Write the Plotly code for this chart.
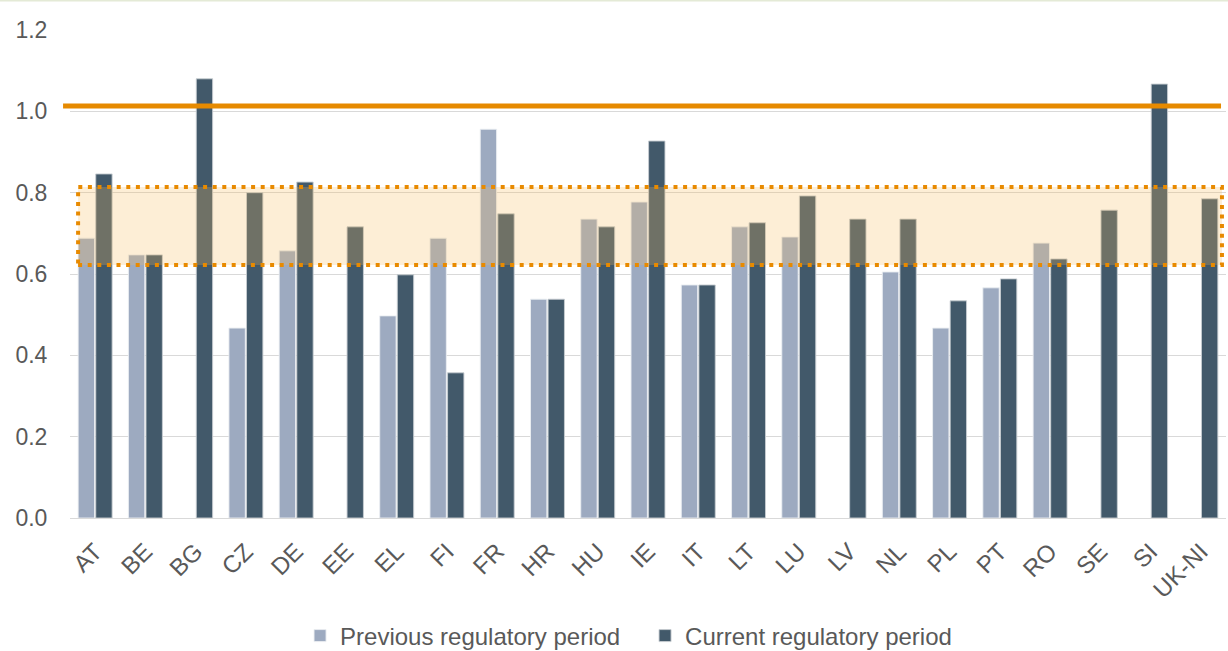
import plotly.graph_objects as go

countries = ["AT", "BE", "BG", "CZ", "DE", "EE", "EL", "FI", "FR", "HR", "HU", "IE",
             "IT", "LT", "LU", "LV", "NL", "PL", "PT", "RO", "SE", "SI", "UK-NI"]
previous = [0.688, 0.647, None, 0.467, 0.657, None, 0.497, 0.688, 0.956, 0.538, 0.735, 0.777,
            0.573, 0.716, 0.691, None, 0.605, 0.467, 0.566, 0.676, None, None, None]
current = [0.846, 0.647, 1.080, 0.800, 0.826, 0.716, 0.598, 0.357, 0.748, 0.538, 0.716, 0.927,
           0.573, 0.726, 0.792, 0.735, 0.735, 0.534, 0.588, 0.637, 0.757, 1.067, 0.785]
threshold = 1.013
band_low, band_high = 0.622, 0.814
yticks = [0.0, 0.2, 0.4, 0.6, 0.8, 1.0, 1.2]

FONT = "Liberation Sans, Arial, sans-serif"
GREY = "#595959"

fig = go.Figure()
fig.add_trace(go.Bar(x=countries, y=previous, name="Previous regulatory period",
                     marker=dict(color="#9DAAC0", line=dict(color="rgba(235,238,242,0.9)", width=1))))
fig.add_trace(go.Bar(x=countries, y=current, name="Current regulatory period",
                     marker=dict(color="#42596A", line=dict(color="rgba(200,205,210,0.9)", width=1))))

# band of reference range
fig.add_shape(type="rect", xref="paper", yref="y", x0=0.007, x1=0.9965,
              y0=band_low, y1=band_high, layer="above",
              fillcolor="rgba(247,187,91,0.25)",
              line=dict(color="#E88A00", width=4, dash="4px,5.6px"))
# threshold line
fig.add_shape(type="line", xref="paper", yref="y", x0=-0.006, x1=0.9957,
              y0=threshold, y1=threshold, layer="above",
              line=dict(color="#E68A00", width=5))
# faint top border
fig.add_shape(type="line", xref="paper", yref="paper", x0=-0.07, x1=1.01,
              y0=1.0605, y1=1.0605, line=dict(color="#E4EAD6", width=2))

fig.update_layout(
    width=1228, height=651,
    margin=dict(l=70, r=2, t=30, b=133),
    paper_bgcolor="white", plot_bgcolor="white",
    barmode="group", bargap=0.3, bargroupgap=0.07,
    font=dict(family=FONT, color=GREY, size=22),
    legend=dict(orientation="h", x=0.1990, xanchor="left",
                yref="container", y=(651 - 636) / 651, yanchor="middle",
                font=dict(size=24, color=GREY), itemwidth=30, traceorder="normal",
                entrywidth=300, entrywidthmode="pixels"),
    showlegend=True,
)
fig.update_xaxes(tickangle=-45, tickfont=dict(size=24, color=GREY), automargin=False,
                 showline=True, linecolor="#D9D9D9", linewidth=1,
                 ticks="", showgrid=False, ticklabelstandoff=9)
fig.update_yaxes(range=[0, 1.2], tickvals=yticks, tickformat=".1f", automargin=False,
                 tickfont=dict(size=23, color=GREY),
                 showgrid=True, gridcolor="#D9D9D9", gridwidth=1,
                 zeroline=False, showline=False,
                 ticks="outside", ticklen=17, tickcolor="rgba(0,0,0,0)")

fig.write_html("out.html", config={"displayModeBar": False},
               post_script="document.body.style.margin='0';document.body.style.overflow='hidden';")
